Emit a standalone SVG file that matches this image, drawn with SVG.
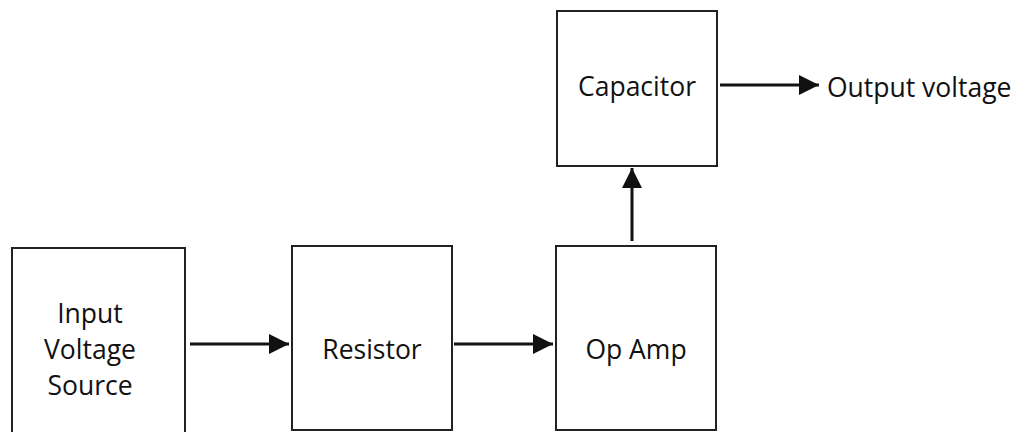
<svg xmlns="http://www.w3.org/2000/svg" width="1026" height="432" viewBox="0 0 1026 432">
<style>
.box{fill:#fff;stroke:#222;stroke-width:2}
.lbl{font-family:"Open Sans","Noto Sans",sans-serif;font-size:26.5px;fill:#111;text-anchor:middle}
.con{stroke:#111;stroke-width:3;fill:none}
</style>
<defs>
<marker id="ah" markerWidth="20" markerHeight="20" refX="20" refY="10" orient="auto" markerUnits="userSpaceOnUse">
<path d="M0,0 L20,10 L0,20 Z" fill="#111"/>
</marker>
</defs>
<rect width="1026" height="432" fill="#fff"/>
<g id="input">
<rect class="box" x="12" y="248" width="173" height="200"/>
<text class="lbl" x="90" y="323">Input</text>
<text class="lbl" x="90" y="359">Voltage</text>
<text class="lbl" x="90" y="395">Source</text>
</g>
<g id="resistor">
<rect class="box" x="292" y="246" width="160" height="184"/>
<text class="lbl" x="372" y="359">Resistor</text>
</g>
<g id="opamp">
<rect class="box" x="556" y="246" width="160" height="184"/>
<text class="lbl" x="636" y="359">Op Amp</text>
</g>
<g id="capacitor">
<rect class="box" x="557" y="11" width="160" height="155"/>
<text class="lbl" x="637" y="96">Capacitor</text>
</g>
<g id="output">
<text class="lbl" x="827" y="97" style="text-anchor:start">Output voltage</text>
</g>
<g id="connectors">
<line class="con" x1="190" y1="344" x2="289" y2="344" marker-end="url(#ah)"/>
<line class="con" x1="454" y1="344" x2="553" y2="344" marker-end="url(#ah)"/>
<line class="con" x1="632" y1="241" x2="632" y2="168" marker-end="url(#ah)"/>
<line class="con" x1="720" y1="85" x2="819" y2="85" marker-end="url(#ah)"/>
</g>
</svg>
